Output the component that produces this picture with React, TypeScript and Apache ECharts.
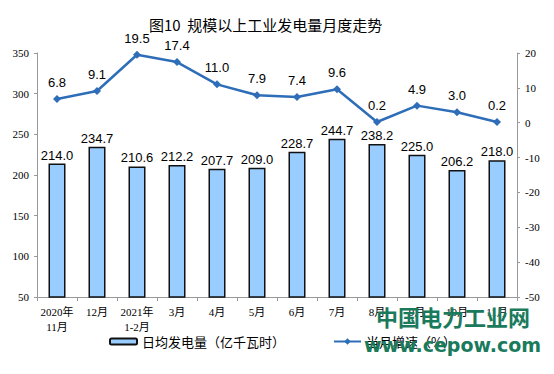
import React, { useEffect, useRef } from "react";
import * as echarts from "echarts";

const categories = [
  "2020年\n11月", "12月", "2021年\n1-2月", "3月", "4月", "5月",
  "6月", "7月", "8月", "9月", "10月", "11月",
];
const dailyGen = [214.0, 234.7, 210.6, 212.2, 207.7, 209.0, 228.7, 244.7, 238.2, 225.0, 206.2, 218.0];
const growth = [6.8, 9.1, 19.5, 17.4, 11.0, 7.9, 7.4, 9.6, 0.2, 4.9, 3.0, 0.2];
const barName = "日均发电量（亿千瓦时）";
const lineName = "当月增速（%）";
const titleText = "图10  规模以上工业发电量月度走势";
const watermark1 = "中国电力工业网";
const watermark2 = "www.cepow.com";

const serif = '"Liberation Serif", "Noto Sans CJK SC", serif';
const cjk = '"Noto Sans CJK SC", sans-serif';
const sans = '"Liberation Sans", Arial, sans-serif';

export default function App() {
  const ref = useRef<HTMLDivElement>(null);
  useEffect(() => {
    if (!ref.current) return;
    const chart = echarts.init(ref.current, null, { renderer: "svg" });
    chart.setOption({
      animation: false,
      backgroundColor: "#fff",
      title: {
        text: titleText,
        left: 144,
        top: 12,
        textStyle: { fontFamily: cjk, fontSize: 15, fontWeight: "normal", color: "#000" },
      },
      grid: { left: 37, right: 37, top: 53, bottom: 77, containLabel: false },
      legend: [
        {
          data: [barName],
          left: 104,
          top: 330,
          itemWidth: 27,
          itemHeight: 6,
          itemGap: 4,
          textStyle: { fontFamily: cjk, fontSize: 13, color: "#000" },
        },
        {
          data: [lineName],
          left: 328,
          top: 330,
          itemWidth: 27,
          itemHeight: 8,
          textStyle: { fontFamily: cjk, fontSize: 13, color: "#000" },
        },
      ],
      xAxis: {
        type: "category",
        data: categories,
        boundaryGap: true,
        axisLine: { onZero: false, lineStyle: { color: "#999", width: 1 } },
        axisTick: { show: true, length: 4, lineStyle: { color: "#999" } },
        axisLabel: {
          fontFamily: serif,
          fontSize: 11,
          color: "#000",
          margin: 7,
          lineHeight: 15,
          interval: 0,
        },
      },
      yAxis: [
        {
          type: "value",
          min: 50,
          max: 350,
          interval: 50,
          splitLine: { show: false },
          axisLine: { show: true, lineStyle: { color: "#999" } },
          axisTick: { show: true, length: 3, lineStyle: { color: "#999" } },
          axisLabel: { fontFamily: serif, fontSize: 11, color: "#000", margin: 8 },
        },
        {
          type: "value",
          min: -50,
          max: 20,
          interval: 10,
          position: "right",
          splitLine: { show: false },
          axisLine: { show: true, lineStyle: { color: "#999" } },
          axisTick: { show: true, length: 3, lineStyle: { color: "#999" } },
          axisLabel: { fontFamily: serif, fontSize: 11, color: "#000", margin: 8 },
        },
      ],
      series: [
        {
          name: barName,
          type: "bar",
          data: dailyGen,
          barWidth: 17,
          itemStyle: { color: "#99CCFF", borderColor: "#111", borderWidth: 1.5 },
          label: {
            show: true,
            position: "top",
            distance: 2,
            formatter: (p: any) => p.value.toFixed(1),
            fontFamily: sans,
            fontSize: 13,
            color: "#000",
          },
        },
        {
          name: lineName,
          type: "line",
          yAxisIndex: 1,
          data: growth,
          symbol: "diamond",
          symbolSize: 8,
          lineStyle: { color: "#2E6DB8", width: 2.5 },
          itemStyle: { color: "#2E6DB8" },
          label: {
            show: true,
            position: "top",
            distance: 6,
            formatter: (p: any) => p.value.toFixed(1),
            fontFamily: sans,
            fontSize: 13,
            color: "#000",
          },
          z: 5,
        },
      ],
      graphic: [
        {
          type: "text",
          left: 376,
          top: 305,
          z: 100,
          style: {
            text: watermark1,
            fontFamily: cjk,
            fontSize: 22,
            fontWeight: "bold",
            fill: "#1A7A5C",
          },
        },
        {
          type: "text",
          left: 364,
          top: 335,
          z: 100,
          style: {
            text: watermark2,
            fontFamily: '"DejaVu Sans", sans-serif',
            fontSize: 19,
            fontWeight: "bold",
            fill: "#1A7A5C",
          },
        },
      ],
    });
    return () => chart.dispose();
  }, []);
  return <div ref={ref} style={{ width: 554, height: 374, margin: -8 }} />;
}
